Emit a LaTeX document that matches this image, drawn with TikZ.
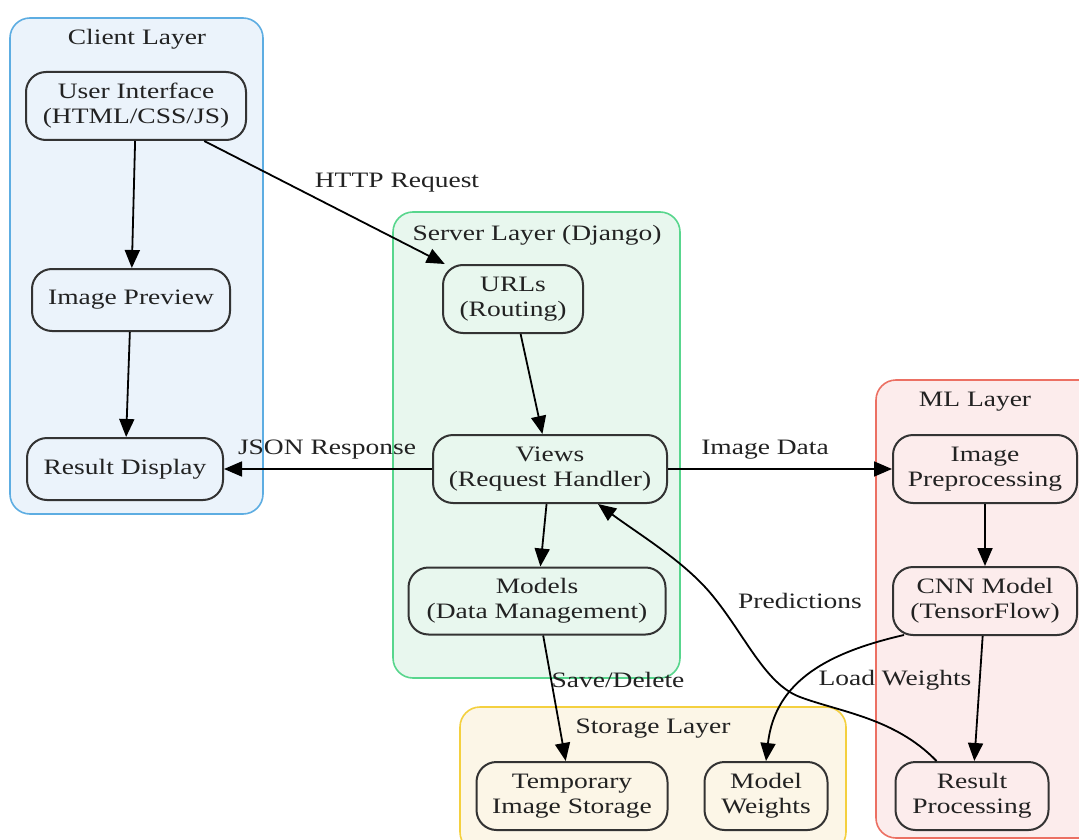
\documentclass[tikz,border=0pt]{standalone}
\usepackage{fontspec}
\setmainfont[FakeStretch=1.25]{Liberation Serif}
\usetikzlibrary{arrows.meta,calc}
\definecolor{clientfill}{HTML}{EBF3FB}
\definecolor{clientdraw}{HTML}{5DADE2}
\definecolor{serverfill}{HTML}{E8F7EE}
\definecolor{serverdraw}{HTML}{58D68D}
\definecolor{mlfill}{HTML}{FCECEC}
\definecolor{mldraw}{HTML}{EC7063}
\definecolor{storfill}{HTML}{FCF6E7}
\definecolor{stordraw}{HTML}{F4D03F}
\definecolor{nodedraw}{HTML}{333333}
\definecolor{txt}{HTML}{222222}
\begin{document}
\begin{tikzpicture}[x=1pt,y=-1pt,
  font=\fontsize{22}{25}\selectfont, text=txt,
  cluster/.style={line width=1.6pt, rounded corners=20pt},
  box/.style={draw=nodedraw, line width=2pt, rounded corners=20pt, align=center,
    inner sep=0pt, minimum height=62pt},
  title/.style={inner sep=0pt},
  lbl/.style={inner sep=0pt, fill=none},
  arr/.style={-{Triangle[length=18pt,width=15pt]}, line width=1.8pt, black},
]
\useasboundingbox (0,0) rectangle (1079,840);
\clip (0,0) rectangle (1079,840);
\fill[white] (0,0) rectangle (1079,840);

% clusters
\draw[cluster, fill=clientfill, draw=clientdraw] (10,18) rectangle (263,514);
\draw[cluster, fill=serverfill, draw=serverdraw] (393,212) rectangle (680,678);
\draw[cluster, fill=mlfill, draw=mldraw] (876,380) rectangle (1100,838);
\draw[cluster, fill=storfill, draw=stordraw] (460,707) rectangle (846,852);

\node[title] (tclient) at (137,39) {Client Layer};
\node[title] (tserver) at (537,235) {Server Layer (Django)};
\node[title] (tml) at (975,402) {ML Layer};
\node[title] (tstor) at (653,729) {Storage Layer};

% nodes
\node[box, minimum width=220pt, minimum height=68pt] (ui) at (136,106) {User Interface\\(HTML/CSS/JS)};
\node[box, minimum width=198pt] (ip) at (131,300) {Image Preview};
\node[box, minimum width=196pt] (rd) at (125,469) {Result Display};

\node[box, minimum width=140pt, minimum height=68pt] (urls) at (513,299) {URLs\\(Routing)};
\node[box, minimum width=234pt, minimum height=68pt] (views) at (550,469) {Views\\(Request Handler)};
\node[box, minimum width=257pt, minimum height=67pt] (models) at (537,601) {Models\\(Data Management)};

\node[box, minimum width=184pt, minimum height=68pt] (pre) at (985,469) {Image\\Preprocessing};
\node[box, minimum width=184pt, minimum height=68pt] (cnn) at (985,601) {CNN Model\\(TensorFlow)};
\node[box, minimum width=153pt, minimum height=68pt] (rp) at (972,796) {Result\\Processing};

\node[box, minimum width=191pt, minimum height=68pt] (tmp) at (572,796) {Temporary\\Image Storage};
\node[box, minimum width=123pt, minimum height=68pt] (mw) at (766,796) {Model\\Weights};

% edges
\draw[arr] (ui) -- (ip);
\draw[arr] (ip) -- (rd);
\draw[arr] (ui) -- (urls);
\node[lbl] (lhttp) at (397,183) {HTTP Request};
\draw[arr] (urls) -- (views);
\draw[arr] (views) -- (rd);
\node[lbl] (ljson) at (327,450) {JSON Response};
\draw[arr] (views) -- (pre);
\node[lbl] (limg) at (765,450) {Image Data};
\draw[arr] (views) -- (models);
\draw[arr] (models) -- (tmp);
\node[lbl] (lsave) at (618,680) {Save/Delete};
\draw[arr] (pre) -- (cnn);
\draw[arr] (cnn) -- (rp);
\draw[arr] ($(cnn.south west)+(12,-1)$) .. controls (830,652) and (775,680) .. (mw.north);
\node[lbl] (lload) at (895,680) {Load Weights};
\draw[arr] ($(rp.north west)+(42,0)$) .. controls (895,718) and (840,712) .. (800,697)
  .. controls (765,684) and (745,635) .. (712,595)
  .. controls (685,562) and (640,535) .. ($(views.south)+(48,0)$);
\node[lbl] (lpred) at (800,601) {Predictions};
\end{tikzpicture}
\end{document}
